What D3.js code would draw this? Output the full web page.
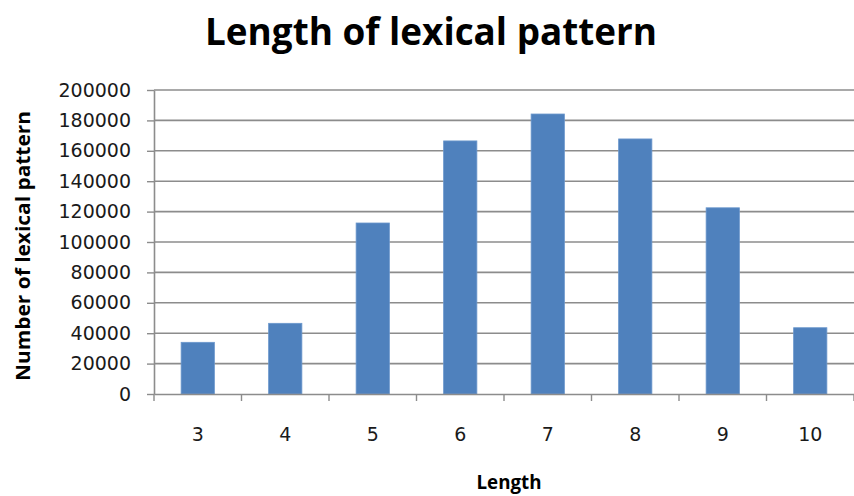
<!DOCTYPE html>
<html><head><meta charset="utf-8">
<script src="https://cdn.jsdelivr.net/npm/d3@7"></script>
<style>body{margin:0;background:#fff}svg{display:block}</style>
</head><body>
<script>
const categories = ["3","4","5","6","7","8","9","10"];
const values = [34000, 46500, 112500, 166500, 184200, 167800, 122500, 43600];
const yTicks = [0,20000,40000,60000,80000,100000,120000,140000,160000,180000,200000];
const title = "Length of lexical pattern";
const xTitle = "Length";
const yTitle = "Number of lexical pattern";

const W = 854, H = 496;
const m = {left:154, right:0, top:90, bottom:102};
const svg = d3.select("body").append("svg").attr("width",W).attr("height",H);

const x = d3.scaleBand().domain(categories).range([m.left, W-m.right]).paddingInner(0.62).paddingOuter(0.31);
const xb = d3.scaleBand().domain(categories).range([m.left, W-m.right]);
const y = d3.scaleLinear().domain([0,200000]).range([H-m.bottom, m.top]);

// gridlines
svg.append("g").selectAll("line").data(yTicks.slice(1)).join("line")
  .attr("x1", m.left).attr("x2", W-m.right)
  .attr("y1", d=>y(d)).attr("y2", d=>y(d))
  .attr("stroke","#8c8c8c").attr("stroke-width",1.6);

// bars
svg.append("g").selectAll("rect").data(values).join("rect")
  .attr("x",(d,i)=>x(categories[i])).attr("width",x.bandwidth())
  .attr("y",d=>y(d)).attr("height",d=>y(0)-y(d))
  .attr("fill","#4f81bd").attr("stroke","#6b97cc").attr("stroke-width",0.8);

const tickFont = "'DejaVu Sans', Verdana, sans-serif";
// y axis
const ya = d3.axisLeft(y).tickValues(yTicks).tickSize(7).tickSizeOuter(0).tickPadding(16).tickFormat(d3.format("d"));
const gy = svg.append("g").attr("transform",`translate(${m.left},0)`).call(ya);
gy.select(".domain").attr("stroke","#8c8c8c").attr("stroke-width",1.6);
gy.selectAll(".tick line").attr("stroke","#8c8c8c").attr("stroke-width",1.4);
gy.selectAll("text").attr("font-family",tickFont).attr("font-size",19).attr("fill","#1a1a1a");

// x axis
const xa = d3.axisBottom(xb).tickSize(0).tickPadding(34);
const gx = svg.append("g").attr("transform",`translate(0,${y(0)})`).call(xa);
gx.select(".domain").attr("stroke","#8c8c8c").attr("stroke-width",1.6);
gx.selectAll("text").attr("font-family",tickFont).attr("font-size",19).attr("fill","#1a1a1a");
// category boundary ticks
const bounds = categories.map(c=>xb(c)).concat([xb(categories[categories.length-1])+xb.bandwidth()]);
svg.append("g").selectAll("line").data(bounds).join("line")
  .attr("x1",d=>d).attr("x2",d=>d).attr("y1",y(0)).attr("y2",y(0)+7)
  .attr("stroke","#8c8c8c").attr("stroke-width",1.4);

// titles
const tf = "'Open Sans', Lato, sans-serif";
svg.append("text").attr("x",431).attr("y",45).attr("text-anchor","middle")
  .attr("font-family",tf).attr("font-weight","bold").attr("font-size",38)
  .attr("textLength",452).attr("lengthAdjust","spacingAndGlyphs")
  .attr("fill","#000").text(title);
svg.append("text").attr("x",509).attr("y",489).attr("text-anchor","middle")
  .attr("font-family",tf).attr("font-weight","bold").attr("font-size",19)
  .attr("textLength",65).attr("lengthAdjust","spacingAndGlyphs")
  .attr("fill","#000").text(xTitle);
svg.append("text").attr("transform","translate(30,246) rotate(-90)").attr("text-anchor","middle")
  .attr("font-family",tf).attr("font-weight","bold").attr("font-size",20)
  .attr("textLength",270).attr("lengthAdjust","spacingAndGlyphs")
  .attr("fill","#000").text(yTitle);
</script>
</body></html>
